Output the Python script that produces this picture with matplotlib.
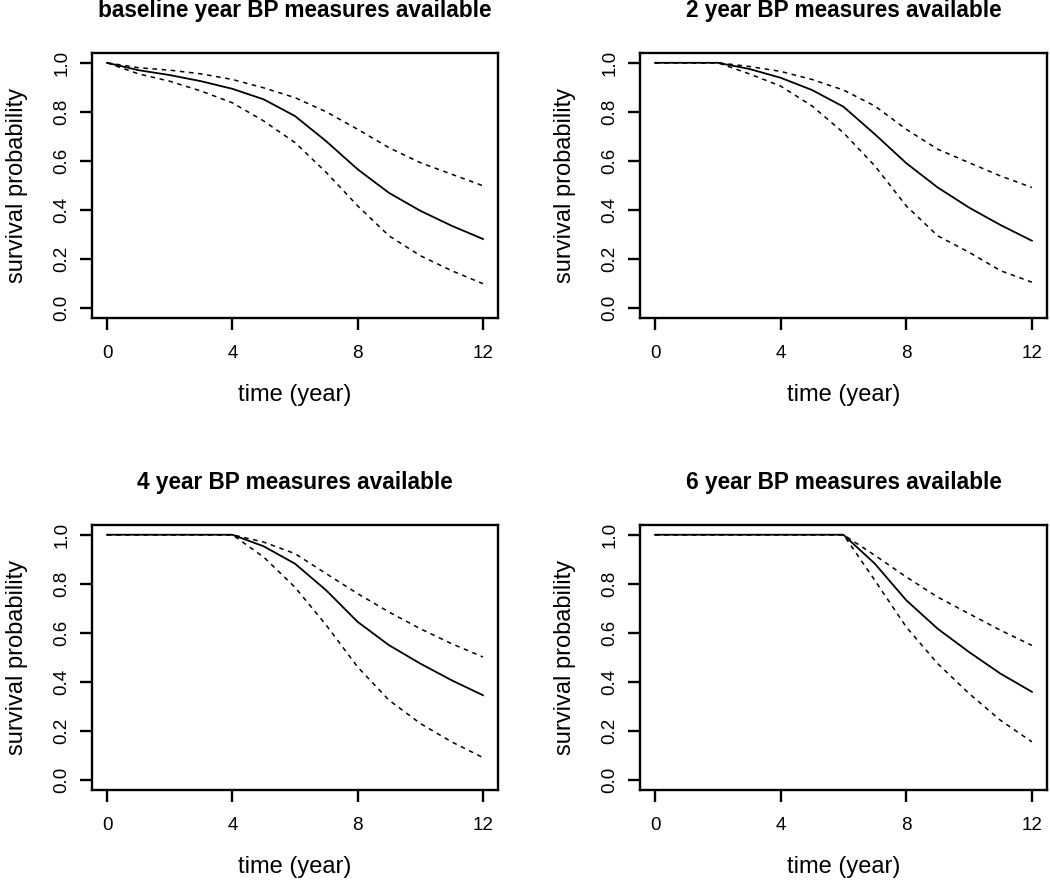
import matplotlib
matplotlib.use("Agg")
import matplotlib.pyplot as plt

plt.rcParams.update({
    "font.family": ["Liberation Sans", "DejaVu Sans"],
    "axes.linewidth": 1.7,
})

YEARS = list(range(13))
TITLES = ["baseline year BP measures available", "2 year BP measures available",
          "4 year BP measures available", "6 year BP measures available"]

# survival estimate and pointwise band, one list per panel
SURV_BASE = [1.0, 0.97, 0.95, 0.925, 0.894, 0.851, 0.783, 0.68, 0.566, 0.47, 0.397, 0.336, 0.282]
UPPER_BASE = [1.0, 0.98, 0.97, 0.955, 0.932, 0.898, 0.858, 0.80, 0.729, 0.654, 0.593, 0.546, 0.499]
LOWER_BASE = [1.0, 0.955, 0.925, 0.885, 0.837, 0.763, 0.675, 0.553, 0.417, 0.295, 0.214, 0.153, 0.10]

SURV_2Y = [1.0, 1.0, 1.0, 0.975, 0.939, 0.889, 0.821, 0.709, 0.591, 0.492, 0.41, 0.339, 0.275]
UPPER_2Y = [1.0, 1.0, 1.0, 0.985, 0.965, 0.932, 0.889, 0.824, 0.729, 0.648, 0.593, 0.539, 0.492]
LOWER_2Y = [1.0, 1.0, 1.0, 0.955, 0.905, 0.824, 0.715, 0.58, 0.417, 0.295, 0.228, 0.153, 0.106]

SURV_4Y = [1.0, 1.0, 1.0, 1.0, 1.0, 0.953, 0.882, 0.773, 0.645, 0.55, 0.475, 0.407, 0.346]
UPPER_4Y = [1.0, 1.0, 1.0, 1.0, 1.0, 0.97, 0.923, 0.841, 0.76, 0.685, 0.617, 0.556, 0.502]
LOWER_4Y = [1.0, 1.0, 1.0, 1.0, 1.0, 0.909, 0.786, 0.631, 0.461, 0.326, 0.231, 0.156, 0.092]

SURV_6Y = [1.0, 1.0, 1.0, 1.0, 1.0, 1.0, 1.0, 0.882, 0.733, 0.617, 0.522, 0.434, 0.36]
UPPER_6Y = [1.0, 1.0, 1.0, 1.0, 1.0, 1.0, 1.0, 0.916, 0.828, 0.746, 0.678, 0.611, 0.549]
LOWER_6Y = [1.0, 1.0, 1.0, 1.0, 1.0, 1.0, 1.0, 0.814, 0.624, 0.475, 0.353, 0.244, 0.156]

PANELS = [
    (SURV_BASE, UPPER_BASE, LOWER_BASE),
    (SURV_2Y, UPPER_2Y, LOWER_2Y),
    (SURV_4Y, UPPER_4Y, LOWER_4Y),
    (SURV_6Y, UPPER_6Y, LOWER_6Y),
]

XTICKS = [0, 4, 8, 12]
YTICKS = [0.0, 0.2, 0.4, 0.6, 0.8, 1.0]

# axes rectangles in figure fraction (R-style 2x2 layout)
RECTS = [
    (0.0876, 0.6386, 0.3867, 0.3012),
    (0.6095, 0.6386, 0.3876, 0.3012),
    (0.0876, 0.1023, 0.3867, 0.3012),
    (0.6095, 0.1023, 0.3876, 0.3012),
]

fig = plt.figure(figsize=(10.5, 8.8), dpi=100)
dash = (0, (3, 3))

for rect, title, (s, up, lo) in zip(RECTS, TITLES, PANELS):
    ax = fig.add_axes(rect)
    ax.plot(YEARS, up, color="black", lw=1.1, ls=dash)
    ax.plot(YEARS, lo, color="black", lw=1.1, ls=dash)
    ax.plot(YEARS, s, color="black", lw=1.3)
    ax.set_xlim(-0.48, 12.48)
    ax.set_ylim(-0.04, 1.04)
    ax.set_xticks(XTICKS)
    ax.set_xticklabels([str(t) for t in XTICKS])
    ax.set_yticks(YTICKS)
    ax.set_yticklabels([f"{v:.1f}" for v in YTICKS], rotation=90, va="center")
    ax.tick_params(direction="out", length=8.5, width=1.7, labelsize=13.5)
    ax.tick_params(axis="x", pad=11)
    ax.tick_params(axis="y", pad=7)
    ax.set_xlabel("time (year)", fontsize=17, labelpad=16)
    ax.set_ylabel("survival probability", fontsize=17, labelpad=18)
    ax.set_title(title, fontsize=16.3, fontweight="bold", pad=26)

fig.savefig("out.png", dpi=100)
